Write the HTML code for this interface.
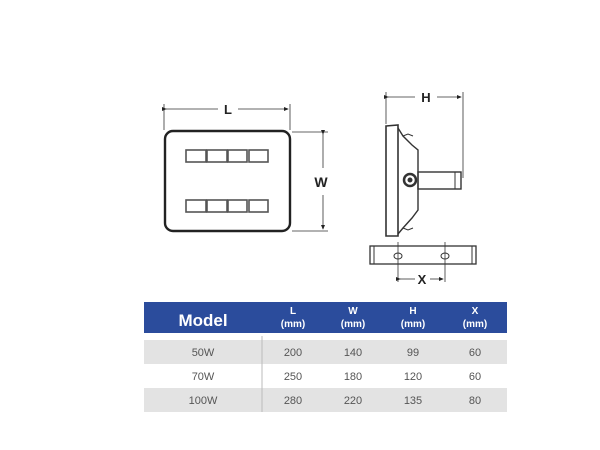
<!DOCTYPE html>
<html><head><style>
body{margin:0;width:600px;height:450px;background:#fff;overflow:hidden;font-family:"Liberation Sans",sans-serif}
</style></head><body>
<svg width="600" height="450" style="position:absolute;left:0;top:0">
<defs><marker id="a" markerWidth="6" markerHeight="6" refX="5" refY="3" orient="auto"><path d="M0,0.5 L6,3 L0,5.5z" fill="#222"/></marker></defs>
<g stroke="#333" fill="none">
<rect x="165" y="131" width="125" height="100" rx="8" stroke-width="2.4" stroke="#222"/>
<line x1="164" y1="104" x2="164" y2="130" stroke-width="0.8"/>
<line x1="290" y1="104" x2="290" y2="130" stroke-width="0.8"/>
<line x1="166" y1="109" x2="218" y2="109" stroke-width="0.8" marker-start="url(#a)"/>
<line x1="238" y1="109" x2="288" y2="109" stroke-width="0.8" marker-end="url(#a)"/>
<line x1="292" y1="132" x2="328" y2="132" stroke-width="0.8"/>
<line x1="292" y1="231" x2="328" y2="231" stroke-width="0.8"/>
<line x1="323" y1="134" x2="323" y2="168" stroke-width="0.8" marker-start="url(#a)"/>
<line x1="323" y1="195" x2="323" y2="229" stroke-width="0.8" marker-end="url(#a)"/>
<g stroke-width="1.6" stroke="#555">
<rect x="186" y="150" width="20" height="12"/><rect x="207" y="150" width="20" height="12"/><rect x="228" y="150" width="19" height="12"/><rect x="249" y="150" width="19" height="12"/>
<rect x="186" y="200" width="20" height="12"/><rect x="207" y="200" width="20" height="12"/><rect x="228" y="200" width="19" height="12"/><rect x="249" y="200" width="19" height="12"/>
</g>
<line x1="386" y1="92" x2="386" y2="124" stroke-width="0.8"/>
<line x1="463" y1="92" x2="463" y2="178" stroke-width="0.8"/>
<line x1="388" y1="97" x2="415" y2="97" stroke-width="0.8" marker-start="url(#a)"/>
<line x1="437" y1="97" x2="461" y2="97" stroke-width="0.8" marker-end="url(#a)"/>
<path d="M386,126 L398,125 L398,236 L386,236 Z" stroke-width="1.6"/>
<path d="M398,128 L403,136 L412,145 L418,150 L418,210 L412,218 L403,228 L398,234" stroke-width="1.4"/>
<path d="M403,136 L408,134 L413,136" stroke-width="1"/>
<path d="M403,228 L408,230 L413,228" stroke-width="1"/>
<rect x="418" y="172" width="43" height="17" stroke-width="1.4"/>
<line x1="455" y1="172" x2="455" y2="189" stroke-width="1"/>
<circle cx="410" cy="180" r="6" stroke-width="2.5"/>
<circle cx="410" cy="180" r="2" fill="#333"/>
<rect x="370" y="246" width="106" height="18" stroke-width="1.3"/>
<line x1="374" y1="246" x2="374" y2="264"/><line x1="472" y1="246" x2="472" y2="264"/>
<ellipse cx="398" cy="256" rx="4" ry="3"/><ellipse cx="445" cy="256" rx="4" ry="3"/>
<line x1="398" y1="242" x2="398" y2="282" stroke-width="0.8"/>
<line x1="445" y1="242" x2="445" y2="282" stroke-width="0.8"/>
<line x1="400" y1="279" x2="415" y2="279" stroke-width="0.8" marker-start="url(#a)"/>
<line x1="430" y1="279" x2="443" y2="279" stroke-width="0.8" marker-end="url(#a)"/>
</g>
<g fill="#222" font-size="13" text-anchor="middle" font-weight="bold">
<text x="228" y="114">L</text><text x="321" y="187" font-size="14">W</text>
<text x="426" y="102">H</text><text x="422" y="284">X</text>
</g>
<rect x="144" y="302" width="363" height="31" fill="#2b4c9c"/>
<rect x="144" y="340" width="363" height="24" fill="#e3e3e3"/>
<rect x="144" y="388" width="363" height="24" fill="#e3e3e3"/>
<line x1="262" y1="336" x2="262" y2="412" stroke="#bbb"/>
<g fill="#fff" text-anchor="middle" font-weight="bold">
<text x="203" y="326" font-size="17">Model</text>
<g font-size="10"><text x="293" y="314">L</text><text x="353" y="314">W</text><text x="413" y="314">H</text><text x="475" y="314">X</text>
<text x="293" y="327">(mm)</text><text x="353" y="327">(mm)</text><text x="413" y="327">(mm)</text><text x="475" y="327">(mm)</text></g>
</g>
<g fill="#555" font-size="11" text-anchor="middle">
<text x="203" y="356">50W</text><text x="293" y="356">200</text><text x="353" y="356">140</text><text x="413" y="356">99</text><text x="475" y="356">60</text>
<text x="203" y="380">70W</text><text x="293" y="380">250</text><text x="353" y="380">180</text><text x="413" y="380">120</text><text x="475" y="380">60</text>
<text x="203" y="404">100W</text><text x="293" y="404">280</text><text x="353" y="404">220</text><text x="413" y="404">135</text><text x="475" y="404">80</text>
</g>
</svg>
</body></html>
